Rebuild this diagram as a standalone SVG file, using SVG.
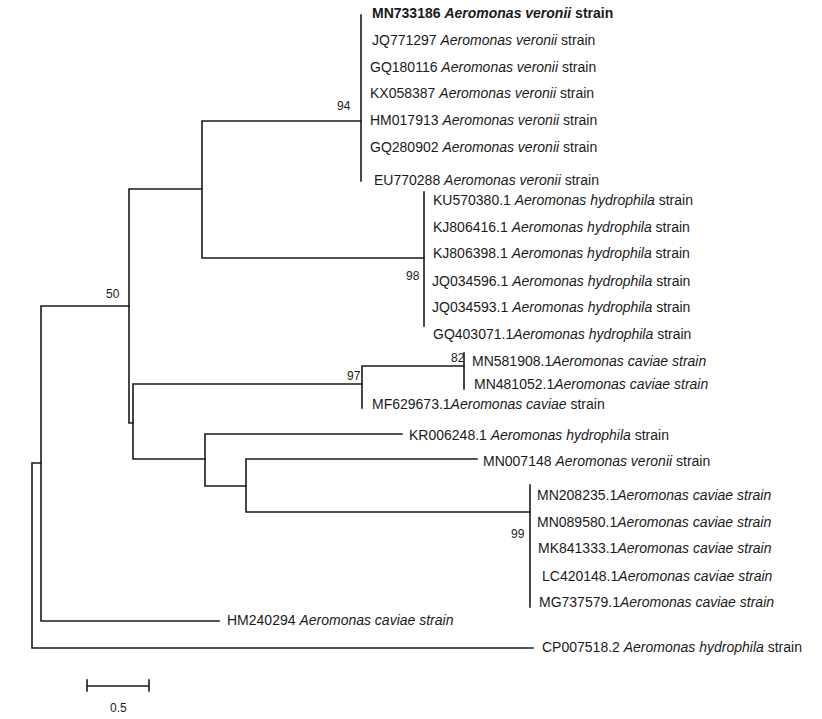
<svg xmlns="http://www.w3.org/2000/svg" width="822" height="719" viewBox="0 0 822 719">
<style>
.b{fill:none;stroke:#1a1a1a;stroke-width:1.6;stroke-linecap:square}
.t{font-family:"Liberation Sans",Arial,sans-serif;font-size:14px;fill:#1a1a1a}
.bs{font-family:"Liberation Sans",Arial,sans-serif;font-size:12px;fill:#1a1a1a}
.i{font-style:italic}
.bold{font-weight:bold}
</style>
<rect width="822" height="719" fill="#fff"/>
<g id="connectors">
<path class="b" d="M32,463V648H533M32,463H41"/>
<path class="b" d="M41,306V621H219M41,306H129"/>
<path class="b" d="M129,189V423H133M129,189H202"/>
<path class="b" d="M202,121V258M202,121H361M202,258H424"/>
<path class="b" d="M361,15V181"/>
<path class="b" d="M424,192V326"/>
<path class="b" d="M133,384V459M133,384H362M133,459H205"/>
<path class="b" d="M362,366V408M362,366H464"/>
<path class="b" d="M464,353V389"/>
<path class="b" d="M205,434V486M205,434H402M205,486H246"/>
<path class="b" d="M246,459V512M246,459H477M246,512H530"/>
<path class="b" d="M530,485V607"/>
</g>
<g id="bootstrap">
<text class="bs" x="337" y="110">94</text>
<text class="bs" x="406" y="280">98</text>
<text class="bs" x="106" y="298">50</text>
<text class="bs" x="347" y="380">97</text>
<text class="bs" x="451" y="362">82</text>
<text class="bs" x="511" y="538">99</text>
</g>
<g id="n1"><text class="t bold" x="372" y="18">MN733186 <tspan class="i">Aeromonas veronii</tspan> strain</text></g>
<g id="n2"><text class="t" x="372" y="45">JQ771297 <tspan class="i">Aeromonas veronii</tspan> strain</text></g>
<g id="n3"><text class="t" x="370" y="72">GQ180116 <tspan class="i">Aeromonas veronii</tspan> strain</text></g>
<g id="n4"><text class="t" x="370" y="98">KX058387 <tspan class="i">Aeromonas veronii</tspan> strain</text></g>
<g id="n5"><text class="t" x="370" y="125">HM017913 <tspan class="i">Aeromonas veronii</tspan> strain</text></g>
<g id="n6"><text class="t" x="370" y="152">GQ280902 <tspan class="i">Aeromonas veronii</tspan> strain</text></g>
<g id="n7"><text class="t" x="374" y="185">EU770288 <tspan class="i">Aeromonas veronii</tspan> strain</text></g>
<g id="n8"><text class="t" x="433" y="205">KU570380.1 <tspan class="i">Aeromonas hydrophila</tspan> strain</text></g>
<g id="n9"><text class="t" x="433" y="232">KJ806416.1 <tspan class="i">Aeromonas hydrophila</tspan> strain</text></g>
<g id="n10"><text class="t" x="433" y="258">KJ806398.1 <tspan class="i">Aeromonas hydrophila</tspan> strain</text></g>
<g id="n11"><text class="t" x="432" y="286">JQ034596.1 <tspan class="i">Aeromonas hydrophila</tspan> strain</text></g>
<g id="n12"><text class="t" x="432" y="312">JQ034593.1 <tspan class="i">Aeromonas hydrophila</tspan> strain</text></g>
<g id="n13"><text class="t" x="433" y="339">GQ403071.1<tspan class="i">Aeromonas hydrophila</tspan> strain</text></g>
<g id="n14"><text class="t" x="472" y="366">MN581908.1<tspan class="i">Aeromonas caviae strain</tspan></text></g>
<g id="n15"><text class="t" x="474" y="389">MN481052.1<tspan class="i">Aeromonas caviae strain</tspan></text></g>
<g id="n16"><text class="t" x="372" y="409">MF629673.1<tspan class="i">Aeromonas caviae</tspan> strain</text></g>
<g id="n17"><text class="t" x="409" y="440">KR006248.1 <tspan class="i">Aeromonas hydrophila</tspan> strain</text></g>
<g id="n18"><text class="t" x="483" y="466">MN007148 <tspan class="i">Aeromonas veronii</tspan> strain</text></g>
<g id="n19"><text class="t" x="537" y="500">MN208235.1<tspan class="i">Aeromonas caviae strain</tspan></text></g>
<g id="n20"><text class="t" x="537" y="527">MN089580.1<tspan class="i">Aeromonas caviae strain</tspan></text></g>
<g id="n21"><text class="t" x="538" y="553">MK841333.1<tspan class="i">Aeromonas caviae strain</tspan></text></g>
<g id="n22"><text class="t" x="542" y="581">LC420148.1<tspan class="i">Aeromonas caviae strain</tspan></text></g>
<g id="n23"><text class="t" x="539" y="607">MG737579.1<tspan class="i">Aeromonas caviae strain</tspan></text></g>
<g id="n24"><text class="t" x="227" y="625">HM240294 <tspan class="i">Aeromonas caviae strain</tspan></text></g>
<g id="n25"><text class="t" x="542" y="652">CP007518.2 <tspan class="i">Aeromonas hydrophila</tspan> strain</text></g>
<g id="scale">
<path class="b" d="M87,686H149M87,680V691M149,680V691"/>
<text class="bs" x="110" y="712">0.5</text>
</g>
</svg>
